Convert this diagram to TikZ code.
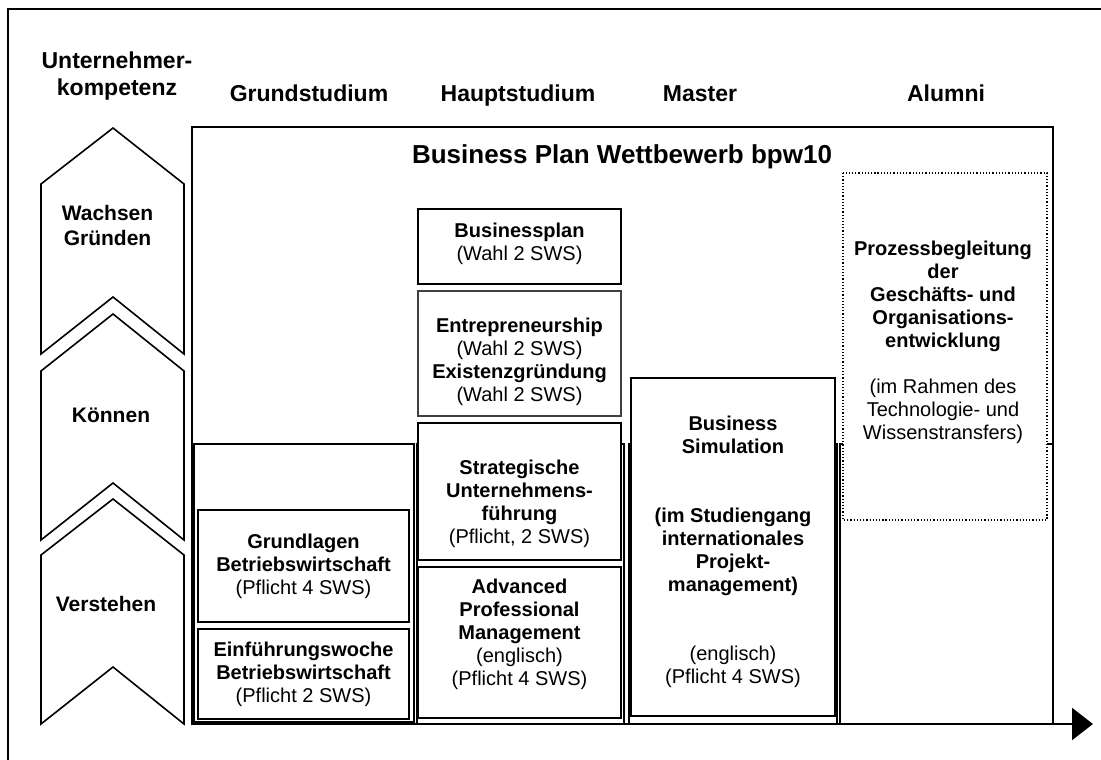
\documentclass[tikz,border=0pt]{standalone}
\usepackage{fontspec}
\setmainfont{Liberation Sans}
\usetikzlibrary{arrows.meta}
\tikzset{
  hdr/.style={font=\fontsize{23bp}{27bp}\selectfont\bfseries, align=center, inner sep=0pt},
  ttl/.style={font=\fontsize{26bp}{30bp}\selectfont\bfseries, align=center, inner sep=0pt},
  lbl/.style={font=\fontsize{21bp}{25bp}\selectfont\bfseries, align=center, inner sep=0pt},
  txt/.style={font=\fontsize{20bp}{23bp}\selectfont, align=center, inner sep=0pt},
  chev/.style={draw, line width=1.6bp, fill=white, line join=miter},
  colbox/.style={draw, line width=1.8bp},
  bigbox/.style={draw, line width=2.2bp},
  thickbox/.style={draw, line width=2.4bp, fill=white},
  midbox/.style={draw, line width=1.6bp, fill=white},
  thinbox/.style={draw=black!75, line width=1.1bp, fill=white},
  dotbox/.style={draw, line width=1.2bp, dotted, fill=white},
  axis/.style={line width=2.2bp, -{Triangle[length=21bp,width=32bp]}}
}
\begin{document}
\begin{tikzpicture}[x=1bp,y=-1bp]
\useasboundingbox (0,0) rectangle (1101,760);
% outer frame
\draw[line width=1.2bp] (8,760) -- (8,9) -- (1101,9);

% competence chevrons
\draw[chev] (41,184) -- (113,128) -- (184,184) -- (184,354) -- (113,297) -- (41,354) -- cycle;
\draw[chev] (41,371) -- (113,314) -- (184,371) -- (184,540) -- (113,483) -- (41,540) -- cycle;
\draw[chev] (41,555) -- (113,499) -- (184,555) -- (184,724) -- (113,667) -- (41,724) -- cycle;
\node[lbl] (wachsen) at (107.5,225) {Wachsen\\Gründen};
\node[lbl, anchor=base] (koennen) at (111,422) {Können};
\node[lbl, anchor=base] (verstehen) at (106,611) {Verstehen};
\node[hdr] (unternehmer) at (117,76) {Unternehmer-\\kompetenz};

% column headers
\node[hdr, anchor=base] (grund) at (309,102) {Grundstudium};
\node[hdr, anchor=base] (haupt) at (518,102) {Hauptstudium};
\node[hdr, anchor=base] (master) at (700,102) {Master};
\node[hdr, anchor=base] (alumni) at (946,102) {Alumni};

% big competition box and columns
\draw[bigbox] (192,127) rectangle (1053,724);
\node[ttl, anchor=base] (bpw) at (622,163) {Business Plan Wettbewerb bpw10};
\draw[colbox] (194,444) rectangle (414,722);
\draw[colbox] (417,444) rectangle (624,724);
\draw[colbox] (629,444) rectangle (837,724);
\draw[colbox] (840,444) rectangle (1053,724);

% Grundstudium
\draw[midbox] (198,510) rectangle (409,622);
\node[txt] (grundlagen) at (303.5,566) {\textbf{Grundlagen}\\\textbf{Betriebswirtschaft}\\(Pflicht 4 SWS)};
\draw[midbox] (198,629) rectangle (409,719);
\node[txt] (einf) at (303.5,674.5) {\textbf{Einführungswoche}\\\textbf{Betriebswirtschaft}\\(Pflicht 2 SWS)};

% Hauptstudium
\draw[thickbox] (418,209) rectangle (621,284);
\node[txt] (bplan) at (519.5,243.5) {\textbf{Businessplan}\\(Wahl 2 SWS)};
\draw[thinbox] (418,291) rectangle (621,416);
\node[txt] (entre) at (519.5,361.5) {\textbf{Entrepreneurship}\\(Wahl 2 SWS)\\\textbf{Existenzgründung}\\(Wahl 2 SWS)};
\draw[thickbox] (418,423) rectangle (621,560);
\node[txt] (strat) at (519.5,503.5) {\textbf{Strategische}\\\textbf{Unternehmens-}\\\textbf{führung}\\(Pflicht, 2 SWS)};
\draw[thickbox] (418,567) rectangle (621,718);
\node[txt] (adv) at (519.5,634.5) {\textbf{Advanced}\\\textbf{Professional}\\\textbf{Management}\\(englisch)\\(Pflicht 4 SWS)};

% Master
\draw[thickbox] (631,378) rectangle (835,716);
\node[txt] (sim) at (733,551.5) {\textbf{Business}\\\textbf{Simulation}\\\mbox{}\\\mbox{}\\\textbf{(im Studiengang}\\\textbf{internationales}\\\textbf{Projekt-}\\\textbf{management)}\\\mbox{}\\\mbox{}\\(englisch)\\(Pflicht 4 SWS)};

% Alumni
\draw[dotbox] (843,173) rectangle (1047,520);
\node[txt] (prozess) at (943,342) {\textbf{Prozessbegleitung}\\\textbf{der}\\\textbf{Geschäfts- und}\\\textbf{Organisations-}\\\textbf{entwicklung}\\\mbox{}\\(im Rahmen des\\Technologie- und\\Wissenstransfers)};

% time axis
\coordinate (ax0) at (192,724);
\coordinate (ax1) at (1093,724);
\draw[axis] (ax0) -- (ax1);
\end{tikzpicture}
\end{document}
